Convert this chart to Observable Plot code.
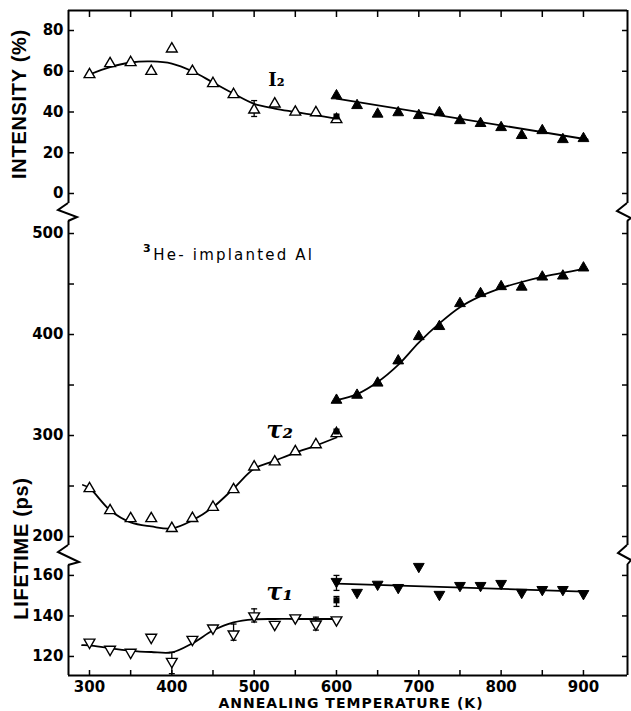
<!DOCTYPE html>
<html><head><meta charset="utf-8">
<script src="https://cdn.jsdelivr.net/npm/d3@7"></script>
<script src="https://cdn.jsdelivr.net/npm/@observablehq/plot@0.6"></script>
<style>
body{margin:0;background:#fff;}
#chart{position:relative;width:631px;height:711px;}
#chart > div{position:absolute;left:0;top:0;}
</style></head><body><div id="chart"></div>
<script>
// ---- data ----
const tempsLow  = [300,325,350,375,400,425,450,475,500,525,550,575,600];
const tempsHigh = [600,625,650,675,700,725,750,775,800,825,850,875,900];

const i2Low   = [58.4,63.8,64.3,60,71,60,54,48.6,41,44,40,39.7,36.3];
const i2High  = [48,43.2,39,39.7,38.3,39.7,35.8,34.4,32.4,28.5,30.9,26.5,27];
const i2FitLowT = [300,325,350,375,400,425,450,475,500,525,550,575,600];
const i2FitLow  = [58.4,62,64.3,64.8,63.8,60,54.5,49,44,41.7,40,38.3,36.8];
const i2FitHighT = [600,905];
const i2FitHigh  = [46.6,26.5];

const tau2Low  = [247.5,225.7,217.8,217.8,208,218,229,246.5,269,274,284,291,302];
const tau2High = [335,340,352,374,398,408,430.7,440.6,447.5,447,457,458,466];
const tau2FitLowT = [292,300,325,350,375,400,425,450,475,500,525,550,575,600];
const tau2FitLow  = [251,248,226,214,210,208,216,229,247.5,267,275,283,290,298];
const tau2FitHighT = [600,625,650,675,700,725,750,775,800,825,850,875,900];
const tau2FitHigh  = [335,341,353,370,392,411,427,438,446,452,457,461,465];

const tau1Low  = [127,123.5,122,129.4,117.5,128.4,134,131,140,135.8,139,136,138];
const tau1High = [157,151.6,155.6,154,164.4,150.6,155,155,156,151.6,153,153,151];
const tau1FitLowT = [291,300,325,350,375,400,425,450,475,500,525,550,575,600];
const tau1FitLow  = [125.6,125.5,124,122.8,122.2,122,126.5,132.8,136.8,138.3,138.5,138.5,138.5,138.5];
const tau1FitHighT = [600,900];
const tau1FitHigh  = [156,152];

const squareT = [600];
const i2Square = [37.8];
const tau2Square = [304];
const tau1Square = [147.7];

const i2ErrT = [500];  const i2ErrLo = [37.8]; const i2ErrHi = [45.6];
const tau1ErrT  = [400,475,500,575,600,600];
const tau1ErrLo = [111.5,128,137,133,152.6,144.7];
const tau1ErrHi = [122,136,143.5,139.4,160,149.6];

const xTicks = [300,350,400,450,500,550,600,650,700,750,800,850,900];
const i2Ticks = [0,20,40,60,80];
const tau2Ticks = [200,250,300,350,400,450,500];
const tau2Labels = [200,300,400,500];
const tau1Ticks = [120,140,160];

// ---- helpers ----
const zip = (xs, ys) => xs.map((x, i) => ({x, y: ys[i]}));
const errs = (xs, lo, hi) => xs.map((x, i) => ({x, lo: lo[i], hi: hi[i]}));
const capSymbol = {draw(c, size) { const w = Math.sqrt(size / Math.PI); c.moveTo(-w, 0); c.lineTo(w, 0); }};
const xDomain = [274.5, 953.5];
const W = 631, H = 711, ML = 68, MR = 4;
const baseStyle = {fontFamily: "DejaVu Sans", fontSize: "15px", fontWeight: "bold", color: "black", overflow: "visible", background: "transparent"};

function frameMarks(yDom, yTicks, labelSet) {
  return [
    Plot.ruleX(xDomain, {stroke: "black", strokeWidth: 2}),
    Plot.axisY({anchor: "left", ticks: yTicks, tickSize: -6, tickPadding: 11, strokeWidth: 1.5,
      tickFormat: d => labelSet.includes(d) ? String(d) : "", label: null,
      fontFamily: "DejaVu Sans", fontSize: 15, fontWeight: "bold"}),
    Plot.axisY({anchor: "right", ticks: yTicks, tickSize: -6, strokeWidth: 1.5, tickFormat: () => "", label: null})
  ];
}

function openTri(xs, ys, down) {
  return Plot.dot(zip(xs, ys), {x: "x", y: "y", symbol: "triangle", r: 4, fill: "white", stroke: "black", strokeWidth: 1.4, rotate: down ? 180 : 0});
}
function fillTri(xs, ys, down) {
  return Plot.dot(zip(xs, ys), {x: "x", y: "y", symbol: "triangle", r: 4, fill: "black", stroke: "black", strokeWidth: 1, rotate: down ? 180 : 0});
}
function fit(xs, ys, curve) {
  return Plot.line(zip(xs, ys), {x: "x", y: "y", stroke: "black", strokeWidth: 1.8, curve: curve || "catmull-rom"});
}
function errMarks(data) {
  return [
    Plot.ruleX(data, {x: "x", y1: "lo", y2: "hi", stroke: "black", strokeWidth: 1.3}),
    Plot.dot(data, {x: "x", y: "lo", symbol: capSymbol, r: 3, stroke: "black", strokeWidth: 1.3}),
    Plot.dot(data, {x: "x", y: "hi", symbol: capSymbol, r: 3, stroke: "black", strokeWidth: 1.3})
  ];
}
function square(xs, ys) {
  return Plot.dot(zip(xs, ys), {x: "x", y: "y", symbol: "square", r: 3.4, fill: "black"});
}

// ---- panel 1: intensity ----
const y1Dom = [-4.91, 89.82];
const p1 = Plot.plot({
  width: W, height: H, marginLeft: ML, marginRight: MR, marginTop: 10, marginBottom: 508,
  style: baseStyle,
  x: {domain: xDomain}, y: {domain: y1Dom},
  marks: [
    Plot.ruleY([y1Dom[1]], {stroke: "black", strokeWidth: 2}),
    Plot.axisX({anchor: "top", ticks: xTicks, tickSize: -6, strokeWidth: 1.5, tickFormat: () => "", label: null}),
    ...frameMarks(y1Dom, i2Ticks, i2Ticks),
    Plot.text(["INTENSITY (%)"], {frameAnchor: "left", textAnchor: "middle", lineAnchor: "middle", rotate: -90, dx: -49, dy: -3, fontFamily: "Liberation Sans", fontSize: 20, fontWeight: "bold"}),
    fit(i2FitLowT, i2FitLow),
    fit(i2FitHighT, i2FitHigh, "linear"),
    ...errMarks(errs(i2ErrT, i2ErrLo, i2ErrHi)),
    openTri(tempsLow, i2Low, false),
    fillTri(tempsHigh, i2High, false),
    square(squareT, i2Square),
    Plot.text(["I₂"], {x: 527, y: 55.5, fontFamily: "DejaVu Serif", fontSize: 18, fontWeight: "bold"})
  ]
});

// ---- panel 2: tau2 ----
const y2Dom = [191.1, 511.9];
const breaks = (index, scales, values, dims) => {
  const xL = dims.marginLeft, xR = dims.width - dims.marginRight;
  const t = dims.marginTop, b = dims.height - dims.marginBottom;
  const g = d3.create("svg:g").attr("fill", "none").attr("stroke", "black").attr("stroke-width", 2).attr("stroke-linejoin", "miter");
  g.append("path").attr("d", `M${xL},${t - 18}L${xL - 10},${t - 11}L${xL + 9},${t - 4}L${xL},${t}`);
  g.append("path").attr("d", `M${xR},${t - 18}L${xR - 10},${t - 10}L${xR + 4},${t - 3}L${xR},${t}`);
  g.append("path").attr("d", `M${xL},${b}L${xL - 10},${b + 7}L${xL + 11},${b + 17}L${xL},${b + 20}`);
  g.append("path").attr("d", `M${xR},${b}L${xR - 9},${b + 8}L${xR + 4},${b + 15}L${xR},${b + 20}`);
  return g.node();
};
const p2 = Plot.plot({
  width: W, height: H, marginLeft: ML, marginRight: MR, marginTop: 221, marginBottom: 166,
  style: baseStyle,
  x: {domain: xDomain, axis: null}, y: {domain: y2Dom},
  marks: [
    ...frameMarks(y2Dom, tau2Ticks, tau2Labels),
    breaks,
    fit(tau2FitLowT, tau2FitLow),
    fit(tau2FitHighT, tau2FitHigh),
    openTri(tempsLow, tau2Low, false),
    fillTri(tempsHigh, tau2High, false),
    square(squareT, tau2Square),
    Plot.text(["τ₂"], {x: 531, y: 305, fontFamily: "DejaVu Serif", fontStyle: "italic", fontSize: 24, fontWeight: "bold"}),
    Plot.text(["3"], {x: 369.5, y: 485, fontFamily: "DejaVu Sans", fontSize: 11, fontWeight: "bold"}),
    Plot.text(["He- implanted Al"], {x: 377.5, y: 479, textAnchor: "start", fontFamily: "DejaVu Sans", fontSize: 15, fontWeight: "normal"})
  ]
});

// ---- panel 3: tau1 ----
const y3Dom = [110.6, 164.9];
const p3 = Plot.plot({
  width: W, height: H, marginLeft: ML, marginRight: MR, marginTop: 565, marginBottom: 36,
  style: baseStyle,
  x: {domain: xDomain}, y: {domain: y3Dom},
  marks: [
    Plot.ruleY([y3Dom[0]], {stroke: "black", strokeWidth: 2}),
    Plot.axisX({anchor: "bottom", ticks: xTicks, tickSize: -5, tickPadding: 11, strokeWidth: 1.5,
      tickFormat: d => d % 100 === 0 ? String(d) : "", label: null,
      fontFamily: "DejaVu Sans", fontSize: 15, fontWeight: "bold"}),
    ...frameMarks(y3Dom, tau1Ticks, tau1Ticks),
    Plot.text(["ANNEALING TEMPERATURE (K)"], {frameAnchor: "bottom", textAnchor: "middle", lineAnchor: "middle", dy: 28, dx: 3, fontFamily: "DejaVu Sans", fontSize: 14, fontWeight: "bold"}),
    Plot.text(["LIFETIME (ps)"], {frameAnchor: "left", textAnchor: "middle", lineAnchor: "middle", rotate: -90, dx: -47, dy: -72, fontFamily: "Liberation Sans", fontSize: 20, fontWeight: "bold"}),
    fit(tau1FitLowT, tau1FitLow),
    fit(tau1FitHighT, tau1FitHigh, "linear"),
    ...errMarks(errs(tau1ErrT, tau1ErrLo, tau1ErrHi)),
    openTri(tempsLow, tau1Low, true),
    fillTri(tempsHigh, tau1High, true),
    square(squareT, tau1Square),
    Plot.text(["τ₁"], {x: 531, y: 151.6, fontFamily: "DejaVu Serif", fontStyle: "italic", fontSize: 24, fontWeight: "bold"})
  ]
});

const chart = document.getElementById("chart");
for (const p of [p1, p2, p3]) {
  const d = document.createElement("div");
  d.appendChild(p);
  chart.appendChild(d);
}
// letter spacing for the wide lettering of the original
const spacing = {"He- implanted Al": "2.2px", "ANNEALING TEMPERATURE (K)": "1px", "INTENSITY (%)": "0.7px", "LIFETIME (ps)": "0.7px"};
d3.select(chart).selectAll("text").each(function() {
  const s = spacing[this.textContent];
  if (s) this.setAttribute("letter-spacing", s);
});
</script>
</body></html>
